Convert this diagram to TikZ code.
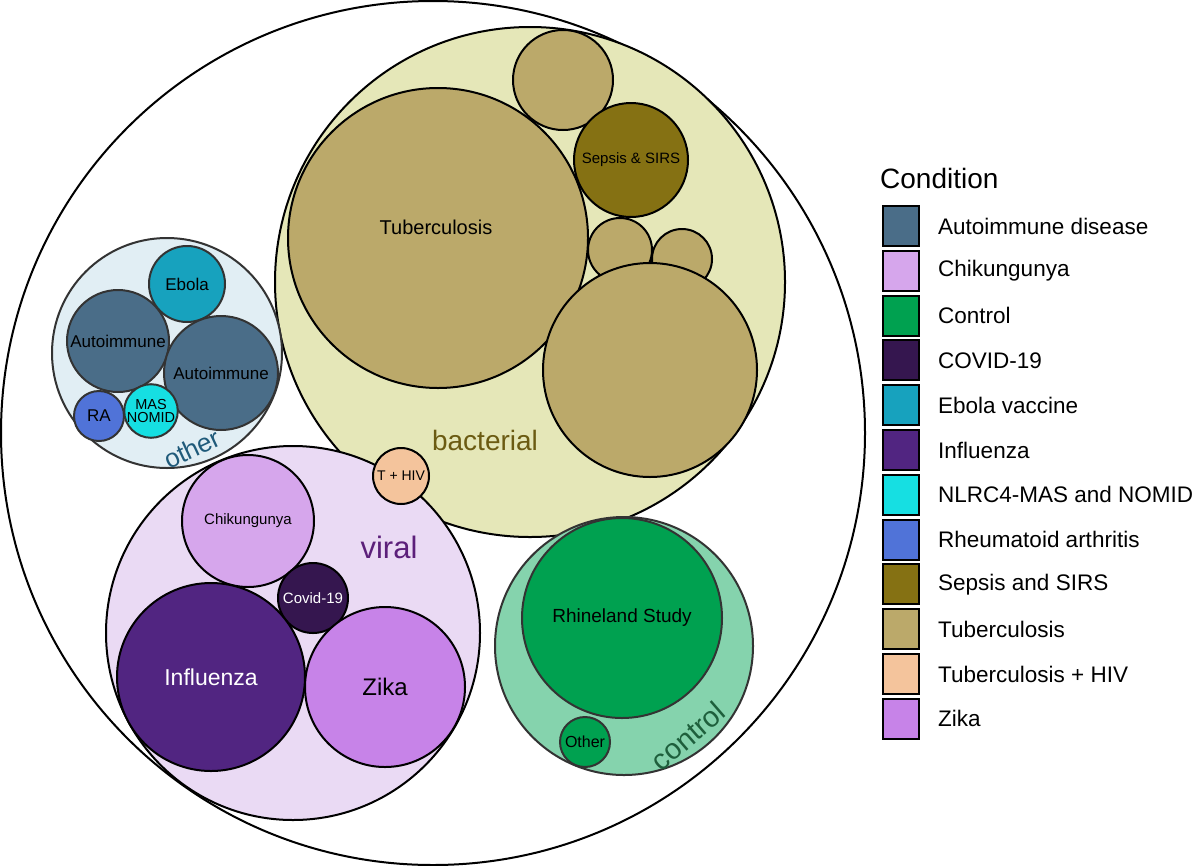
\documentclass[tikz,border=0pt]{standalone}
\usepackage{fontspec}
\setmainfont{Liberation Sans}
\definecolor{cAuto}{HTML}{4A6D88}
\definecolor{cChik}{HTML}{D6A6EC}
\definecolor{cCtrl}{HTML}{00A150}
\definecolor{cCovid}{HTML}{35164F}
\definecolor{cEbola}{HTML}{17A2BE}
\definecolor{cFlu}{HTML}{512581}
\definecolor{cMas}{HTML}{16DFE2}
\definecolor{cRA}{HTML}{5073D8}
\definecolor{cSepsis}{HTML}{857113}
\definecolor{cTB}{HTML}{BBA96A}
\definecolor{cTBHIV}{HTML}{F4C49C}
\definecolor{cZika}{HTML}{C783E8}
\definecolor{gBact}{HTML}{E5E7B8}
\definecolor{gViral}{HTML}{EADAF4}
\definecolor{gOther}{HTML}{E1EEF4}
\definecolor{gCtrl}{HTML}{85D3AD}
\definecolor{tBact}{HTML}{6B5B12}
\definecolor{tViral}{HTML}{5C1F7A}
\definecolor{tOther}{HTML}{1F5A7A}
\definecolor{tCtrl}{HTML}{1E5F3C}
\definecolor{edgeGray}{HTML}{333333}
\newcommand{\fs}[1]{\fontsize{#1}{#1}\selectfont}
\begin{document}
\begin{tikzpicture}[x=1pt,y=-1pt,
  bub/.style={circle, draw=black, line width=2pt, inner sep=0pt, minimum size=#1, text=black},
  gbub/.style={circle, draw=edgeGray, line width=2pt, inner sep=0pt, minimum size=#1},
  lbox/.style={rectangle, draw=black, line width=2pt, minimum width=36pt, minimum height=40pt, inner sep=0pt},
  ltext/.style={anchor=west, inner sep=0pt, font=\fs{22.5}}
]
\useasboundingbox (0,0) rectangle (1198,865);
% outer circle
\node[bub=864pt, fill=white] (outer) at (433,433) {};

% bacterial group
\node[bub=510pt, fill=gBact] (bact) at (530,282) {};
\node[bub=300pt, fill=cTB] (tb1) at (438,238) {};
\node[font=\fs{20}] (tb1lab) at (436,227) {Tuberculosis};
\node[bub=100pt, fill=cTB] (tb2) at (563,80) {};
\node[bub=114pt, fill=cSepsis, font=\fs{15}] (sepsis) at (631,160) {Sepsis \& SIRS};
\node[bub=64pt, fill=cTB] (tb3) at (620,250) {};
\node[bub=60pt, fill=cTB] (tb4) at (682,259) {};
\node[bub=214pt, fill=cTB] (tb5) at (650,370) {};
\node[text=tBact, font=\fs{28}, inner sep=0pt] (lbact) at (485,440) {bacterial};

% other group
\node[gbub=230pt, fill=gOther] (other) at (167,353) {};
\node[gbub=76pt, fill=cEbola, font=\fs{17}] (ebola) at (187,284) {Ebola};
\node[gbub=102pt, fill=cAuto, font=\fs{17}] (auto1) at (118,341) {Autoimmune};
\node[gbub=114pt, fill=cAuto, font=\fs{17}] (auto2) at (221,373) {Autoimmune};
\node[gbub=50pt, fill=cRA, font=\fs{17}] (ra) at (99,416) {RA};
\node[gbub=52pt, fill=cMas, font=\fs{14.5}, align=center] (mas) at (151,411) {MAS\\[-1.5pt]NOMID};
\node[text=tOther, font=\fs{26}, rotate=25, inner sep=0pt] (lother) at (192,449) {other};

% viral group
\node[bub=374pt, fill=gViral] (viral) at (293,633) {};
\node[bub=132pt, fill=cChik, font=\fs{15}] (chik) at (248,521) {Chikungunya};
\node[bub=70pt, fill=cCovid] (covid) at (313,598) {};
\node[text=white, font=\fs{15}] (covidlab) at (covid) {Covid-19};
\node[bub=188pt, fill=cFlu] (flu) at (211,677) {};
\node[text=white, font=\fs{23}] (flulab) at (flu) {Influenza};
\node[bub=160pt, fill=cZika, font=\fs{24}] (zika) at (385,687) {Zika};
\node[text=tViral, font=\fs{31}, inner sep=0pt] (lviral) at (389,547) {viral};
\node[bub=56pt, fill=cTBHIV, font=\fs{14}] (tbhiv) at (401,476) {T + HIV};

% control group
\node[gbub=258pt, fill=gCtrl] (ctrl) at (624,646) {};
\node[gbub=200pt, fill=cCtrl, font=\fs{19}] (rhine) at (622,618) {Rhineland Study};
\node[gbub=50pt, fill=cCtrl, font=\fs{16}] (ctrlother) at (585,742) {Other};
\node[text=tCtrl, font=\fs{29}, rotate=41, inner sep=0pt] (lctrl) at (688,736) {control};

% legend
\node[anchor=west, inner sep=0pt, font=\fs{28}] (ltitle) at (880,178) {Condition};
\foreach \col/\lab [count=\i from 0] in {cAuto/Autoimmune disease, cChik/Chikungunya, cCtrl/Control, cCovid/COVID-19, cEbola/Ebola vaccine, cFlu/Influenza, cMas/NLRC4-MAS and NOMID, cRA/Rheumatoid arthritis, cSepsis/Sepsis and SIRS, cTB/Tuberculosis, cTBHIV/Tuberculosis + HIV, cZika/Zika}{
  \node[lbox, fill=\col] (box\i) at (901,{226+44.8*\i}) {};
  \node[ltext] (lab\i) at (938,{226+44.8*\i}) {\lab};
}
\end{tikzpicture}
\end{document}
